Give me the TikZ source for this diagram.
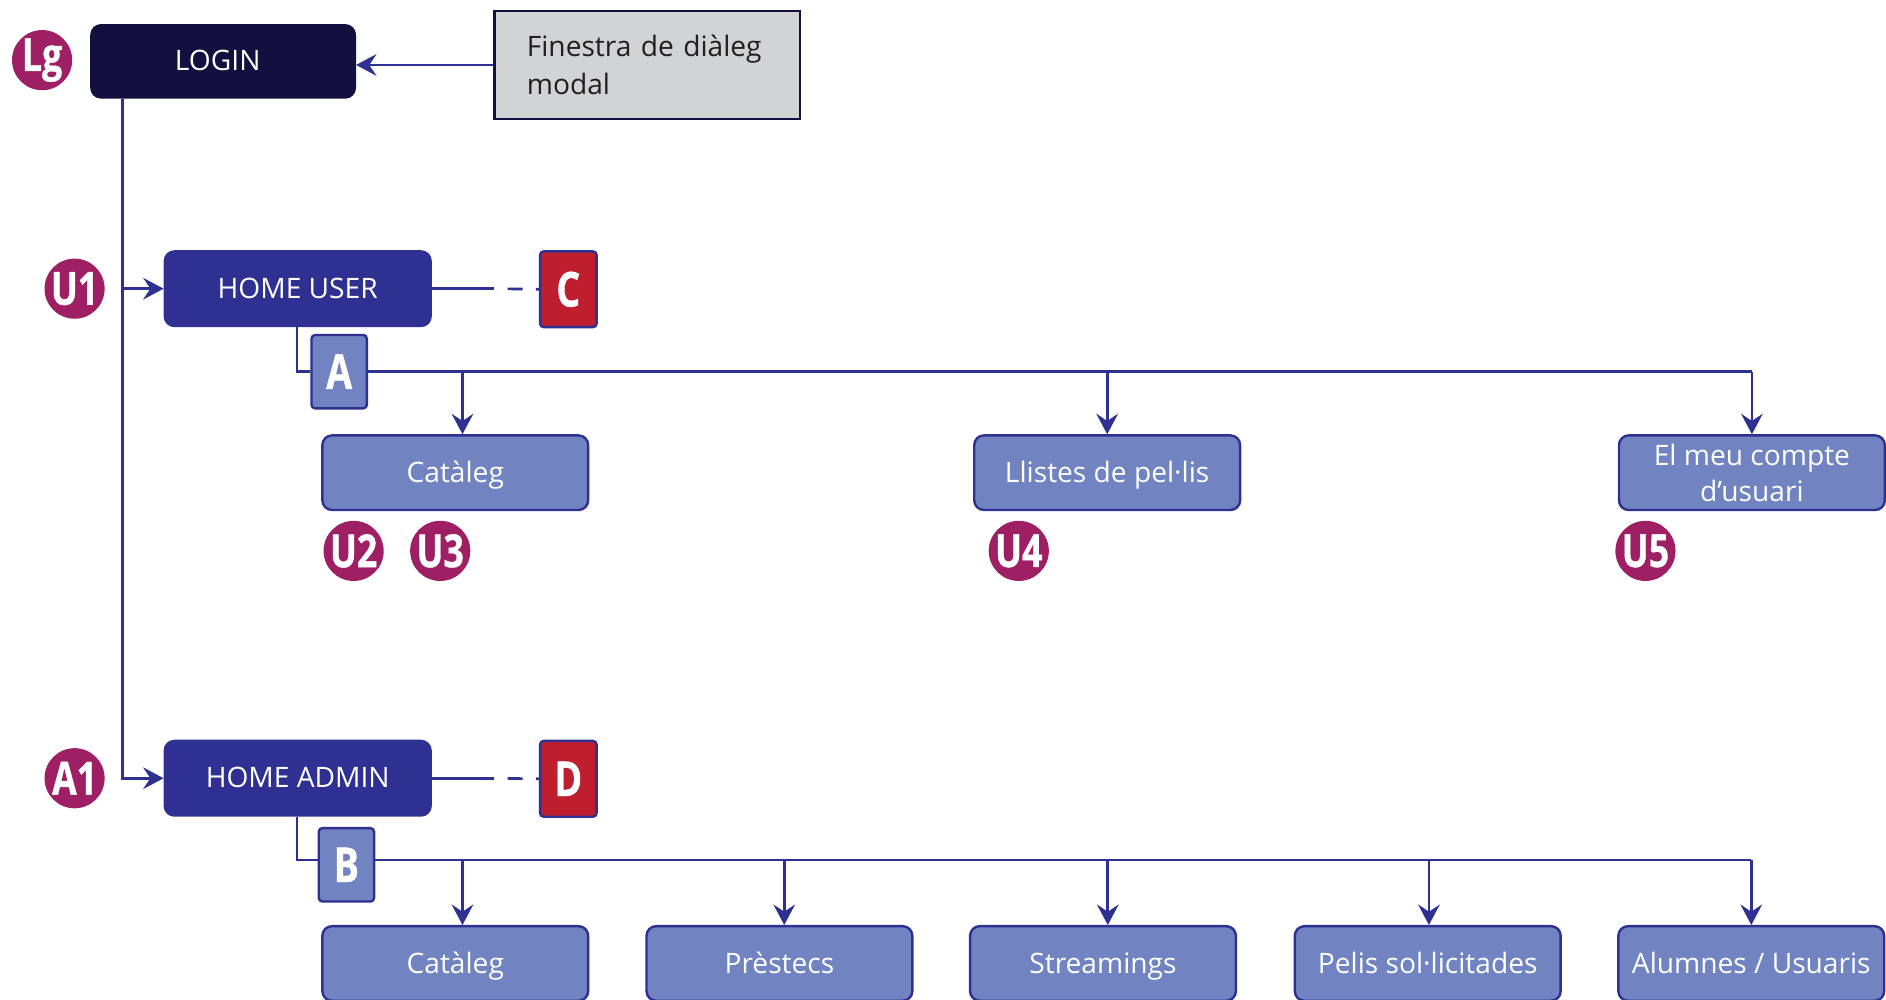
\documentclass[tikz,border=0pt]{standalone}
\usepackage{fontspec}
\setmainfont{Open Sans}
\newfontfamily\condfont[FakeStretch=0.78,FakeBold=0.8]{Open Sans}
\usetikzlibrary{arrows.meta,calc}
\definecolor{navy}{HTML}{12103E}
\definecolor{homeblue}{HTML}{2E3192}
\definecolor{lightblue}{HTML}{7183C1}
\definecolor{tagred}{HTML}{BE1E2D}
\definecolor{berry}{HTML}{9E1F63}
\definecolor{panelgray}{HTML}{D1D3D4}
\definecolor{inkdark}{HTML}{231F20}
\tikzset{
  basebox/.style={rounded corners=8pt, line width=2pt, text=white, inner sep=0pt,
    align=center, font=\fontsize{23.4}{30}\selectfont,
    minimum width=221pt, minimum height=62pt},
  oneline/.style={text height=19pt, text depth=3pt},
  loginbox/.style={basebox, oneline, fill=navy, draw=navy, minimum width=219pt, minimum height=60pt},
  homebox/.style={basebox, oneline, fill=homeblue, draw=homeblue},
  subbox/.style={basebox, fill=lightblue, draw=homeblue},
  panel/.style={draw=navy, line width=2pt, fill=panelgray, text=inkdark,
    minimum width=254pt, minimum height=90pt, text width=200pt, inner xsep=27pt,
    align=left, font=\fontsize{23.4}{31}\selectfont},
  tagbox/.style={rounded corners=3pt, draw=homeblue, line width=2pt, text=white,
    inner sep=0pt, minimum width=46pt, minimum height=61pt,
    font=\condfont\bfseries\fontsize{40}{40}\selectfont},
  dot/.style={circle, fill=berry, text=white, inner sep=0pt, minimum size=50pt,
    font=\condfont\bfseries\fontsize{38}{38}\selectfont},
  link/.style={draw=homeblue, line width=2.2pt},
  arr/.style={link, -{Stealth[length=17pt, width=18pt, inset=6pt]}},
}
\begin{document}
\begin{tikzpicture}[x=1pt, y=-1pt]
\clip (0,0) rectangle (1568,831);

% login and the dialog that opens it
\node[loginbox] (login) at (185.5,51) {LOGIN\hspace*{9pt}};
\node[dot] (lg) at (35,50) {Lg};
\node[panel] (modal) at (538,54) {Finestra de diàleg\\modal};
\draw[arr] (modal.west) -- (modal.west -| login.east);

% user branch
\node[homebox] (hu) at (247.5,240) {HOME USER};
\node[dot] (u1) at (62,240) {U1};
\node[tagbox, fill=tagred, minimum width=47pt, minimum height=63pt] (c) at (472.5,240.5) {C};
\node[tagbox, fill=lightblue] (a) at (282,309) {A};
\node[subbox, oneline] (ucat) at (378.5,393) {Catàleg};
\node[subbox, oneline] (llistes) at (920.5,393) {Llistes de pel·lis};
\node[subbox] (compte) at (1456.5,393) {El meu compte\\d’usuari};
\node[dot] (u2) at (294,458) {U2};
\node[dot] (u3) at (366,458) {U3};
\node[dot] (u4) at (847,458) {U4};
\node[dot] (u5) at (1368,458) {U5};

% admin branch
\node[homebox] (ha) at (247.5,647) {HOME ADMIN};
\node[dot] (a1) at (62,647) {A1};
\node[tagbox, fill=tagred, minimum width=47pt, minimum height=63pt] (d) at (472.5,647.5) {D};
\node[tagbox, fill=lightblue] (b) at (288,719) {B};
\node[subbox, oneline] (acat) at (378.5,801) {Catàleg};
\node[subbox, oneline] (prestecs) at (648,801) {Prèstecs};
\node[subbox, oneline] (stream) at (917,801) {Streamings};
\node[subbox, oneline] (pelis) at (1187,801) {Pelis sol·licitades};
\node[subbox, oneline] (alumnes) at (1456,801) {Alumnes / Usuaris};

% trunk from the login down to both homes
\coordinate (trunk) at ($(login.south west)+(27,0)$);
\draw[arr] (trunk) |- (ha.west);
\draw[arr] (trunk |- hu.west) -- (hu.west);

% solid-then-dashed links to the side tags
\coordinate (cgap) at ($(hu.east)+(52,0)$);
\draw[link] (hu.east) -- (cgap);
\draw[link, dash pattern=on 0pt off 11pt on 12.5pt off 11pt on 20pt] (cgap) -- (c.west);
\coordinate (dgap) at ($(ha.east)+(52,0)$);
\draw[link] (ha.east) -- (dgap);
\draw[link, dash pattern=on 0pt off 11pt on 12.5pt off 11pt on 20pt] (dgap) -- (d.west);

% user menu bus
\coordinate (ua) at ($(hu.south west)+(111,0)$);
\draw[link] (ua) |- (a.west);
\coordinate (ucatin) at ($(ucat.north)+(6,0)$);
\draw[link] (a.east) -- (a.east -| compte.north);
\draw[arr] (ucatin |- a.east) -- (ucatin);
\draw[arr] (llistes.north |- a.east) -- (llistes.north);
\draw[arr] (compte.north |- a.east) -- (compte.north);

% admin menu bus
\coordinate (aa) at ($(ha.south west)+(111,0)$);
\coordinate (bus) at (b.west |- 0,715);
\draw[link] (aa) |- (bus);
\coordinate (acatin) at ($(acat.north)+(6,0)$);
\coordinate (prestin) at ($(prestecs.north)+(4,0)$);
\coordinate (streamin) at ($(stream.north)+(4,0)$);
\coordinate (pelisin) at ($(pelis.north)+(1,0)$);
\draw[link] (b.east |- bus) -- (alumnes.north |- bus);
\draw[arr] (acatin |- bus) -- (acatin);
\draw[arr] (prestin |- bus) -- (prestin);
\draw[arr] (streamin |- bus) -- (streamin);
\draw[arr] (pelisin |- bus) -- (pelisin);
\draw[arr] (alumnes.north |- bus) -- (alumnes.north);
\end{tikzpicture}
\end{document}
